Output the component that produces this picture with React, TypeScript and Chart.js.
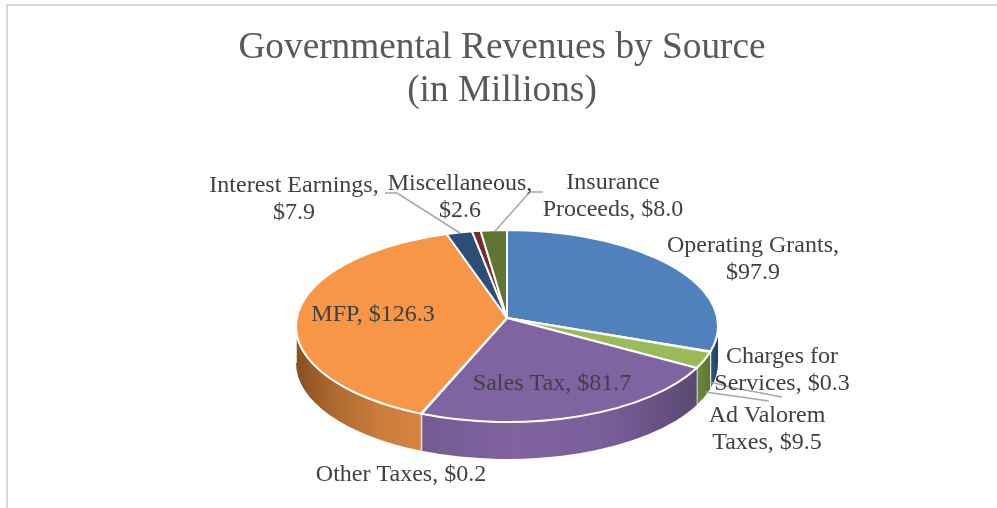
import React, { useEffect, useRef } from "react";
import { Chart, registerables } from "chart.js";

Chart.register(...registerables);

const categories = ["Operating Grants", "Charges for Services", "Ad Valorem Taxes", "Sales Tax", "Other Taxes", "MFP", "Interest Earnings", "Miscellaneous", "Insurance Proceeds"];
const revenues = [97.9, 0.3, 9.5, 81.7, 0.2, 126.3, 7.9, 2.6, 8.0];
const titleLines = ["Governmental Revenues by Source", "(in Millions)"];
const sliceColors = ["#4f81bd", "#c0504d", "#9bbb59", "#8064a2", "#4bacc6", "#f79646", "#2c4d75", "#772c2a", "#5f7530"];
const wallStops: string[][] = [
  ["#2a5688", "#1d4068"],
  ["#8f3b39", "#8f3b39"],
  ["#6f8b3c", "#5c7530"],
  ["#755a92", "#80639f", "#7a5e99", "#5b4873"],
  ["#38809a", "#38809a"],
  ["#87501f", "#b06c30", "#c97c3b", "#d6853f"],
  ["#213a58", "#213a58"],
  ["#59211f", "#59211f"],
  ["#475824", "#475824"],
];

// layout of the text and leader lines, in page pixels
const labelLayout = [
  { x: 753, y: 246, wordsFirstLine: 2 },
  { x: 782, y: 357, wordsFirstLine: 2 },
  { x: 767, y: 416, wordsFirstLine: 2 },
  { x: 552, y: 384, wordsFirstLine: 9 },
  { x: 401, y: 475, wordsFirstLine: 9 },
  { x: 373, y: 315, wordsFirstLine: 9 },
  { x: 294, y: 186, wordsFirstLine: 2 },
  { x: 460, y: 184, wordsFirstLine: 1 },
  { x: 613, y: 183, wordsFirstLine: 1 },
];
const leaderLines: number[][][] = [
  [[385, 193], [397, 193], [460, 233]],
  [[543, 192], [530, 192], [495, 231]],
  [[710, 382], [735, 388], [782, 397]],
  [[705, 392], [769, 401]],
];
// how far the rim angle shifts with perspective: [clockwise from top, shift], degrees
const perspectiveShift = [[0, 0], [204, 0], [340, 3.3], [360, 0]];

const FONT = '"Liberation Serif", serif';
const CX = 507, CY = 326, RX = 211, RY = 96, APEX_Y = 318, DEPTH = 37, LINE_H = 27;

function rimAngle(a: number) {
  const deg = (((a * 180) / Math.PI + 90) % 360 + 360) % 360;
  const whole = a + Math.PI / 2 >= 2 * Math.PI - 1e-6 ? 360 : deg;
  for (let i = 1; i < perspectiveShift.length; i++) {
    const [d0, s0] = perspectiveShift[i - 1];
    const [d1, s1] = perspectiveShift[i];
    if (whole <= d1) {
      const s = s0 + ((s1 - s0) * (whole - d0)) / (d1 - d0);
      return a + (s * Math.PI) / 180;
    }
  }
  return a;
}

const pie3d = {
  id: "pie3d",
  beforeDraw(chart: any) {
    const { ctx, width, height } = chart;
    ctx.save();
    ctx.fillStyle = "#ffffff";
    ctx.fillRect(0, 0, width, height);
    ctx.fillStyle = "#d9d9d9";
    ctx.fillRect(6, 4, width - 6, 2);
    ctx.fillRect(6, 4, 2, height - 4);
    ctx.restore();
  },
  beforeDatasetDraw(chart: any) {
    const { ctx } = chart;
    const arcs = chart.getDatasetMeta(0).data;
    ctx.save();
    arcs.forEach((arc: any, i: number) => {
      const a = Math.max(arc.startAngle, 0);
      const b = Math.min(arc.endAngle, Math.PI);
      if (b <= a) return;
      const x0 = CX + RX * Math.cos(b);
      const x1 = CX + RX * Math.cos(a);
      const g = ctx.createLinearGradient(x0, 0, Math.max(x1, x0 + 1), 0);
      const stops = wallStops[i];
      stops.forEach((c, k) => g.addColorStop(k / (stops.length - 1), c));
      ctx.beginPath();
      ctx.ellipse(CX, CY, RX, RY, 0, a, b);
      ctx.ellipse(CX, CY + DEPTH, RX, RY, 0, b, a, true);
      ctx.closePath();
      ctx.fillStyle = g;
      ctx.fill();
      ctx.lineWidth = 1.5;
      ctx.strokeStyle = "#ffffff";
      ctx.beginPath();
      ctx.moveTo(CX + RX * Math.cos(b), CY + RY * Math.sin(b));
      ctx.lineTo(CX + RX * Math.cos(b), CY + DEPTH + RY * Math.sin(b));
      ctx.stroke();
    });
    // flatten the library's own arcs into the tilted ellipse
    const first = arcs[0];
    ctx.restore();
    ctx.save();
    ctx.translate(CX, CY);
    ctx.scale(1, RY / RX);
    ctx.translate(-first.x, -first.y);
  },
  afterDatasetDraw(chart: any) {
    const { ctx } = chart;
    ctx.restore();
    const arcs = chart.getDatasetMeta(0).data;
    // perspective: the slices meet slightly behind the ellipse's centre
    ctx.save();
    ctx.lineJoin = "round";
    arcs.forEach((arc: any, i: number) => {
      ctx.beginPath();
      ctx.moveTo(CX, APEX_Y);
      ctx.ellipse(CX, CY, RX, RY, 0, rimAngle(arc.startAngle), rimAngle(arc.endAngle));
      ctx.closePath();
      ctx.fillStyle = sliceColors[i];
      ctx.fill();
      ctx.strokeStyle = "#ffffff";
      ctx.lineWidth = 2;
      ctx.stroke();
    });
    ctx.restore();
  },
  afterDraw(chart: any) {
    const { ctx } = chart;
    ctx.save();
    ctx.strokeStyle = "#a6a6a6";
    ctx.lineWidth = 1.5;
    leaderLines.forEach((pts) => {
      ctx.beginPath();
      pts.forEach(([x, y], k) => (k ? ctx.lineTo(x, y) : ctx.moveTo(x, y)));
      ctx.stroke();
    });
    ctx.fillStyle = "#404040";
    ctx.font = `24px ${FONT}`;
    ctx.textAlign = "center";
    ctx.textBaseline = "middle";
    categories.forEach((name, i) => {
      const words = `${name}, $${revenues[i].toFixed(1)}`.split(" ");
      const n = labelLayout[i].wordsFirstLine;
      const lines = [words.slice(0, n).join(" "), words.slice(n).join(" ")].filter(Boolean);
      lines.forEach((t, k) => ctx.fillText(t, labelLayout[i].x, labelLayout[i].y + k * LINE_H));
    });
    ctx.restore();
  },
};

export default function App() {
  const ref = useRef<HTMLCanvasElement>(null);
  useEffect(() => {
    const chart = new Chart(ref.current!, {
      type: "pie",
      data: {
        labels: categories,
        datasets: [{
          data: revenues,
          backgroundColor: sliceColors,
          borderColor: "#ffffff",
          borderWidth: 2,
          radius: RX,
        }],
      },
      options: {
        responsive: false,
        animation: false,
        events: [],
        layout: { padding: { left: 7 } },
        plugins: {
          legend: { display: false },
          tooltip: { enabled: false },
          title: {
            display: true,
            text: titleLines,
            color: "#595959",
            font: { family: FONT, size: 37.3, weight: "normal", lineHeight: 1.15 },
            padding: { top: 27, bottom: 10 },
          },
        },
      },
      plugins: [pie3d],
    } as any);
    return () => chart.destroy();
  }, []);
  return (
    <div style={{ position: "absolute", left: 0, top: 0 }}>
      <canvas ref={ref} width={997} height={508} style={{ display: "block" }} />
    </div>
  );
}
